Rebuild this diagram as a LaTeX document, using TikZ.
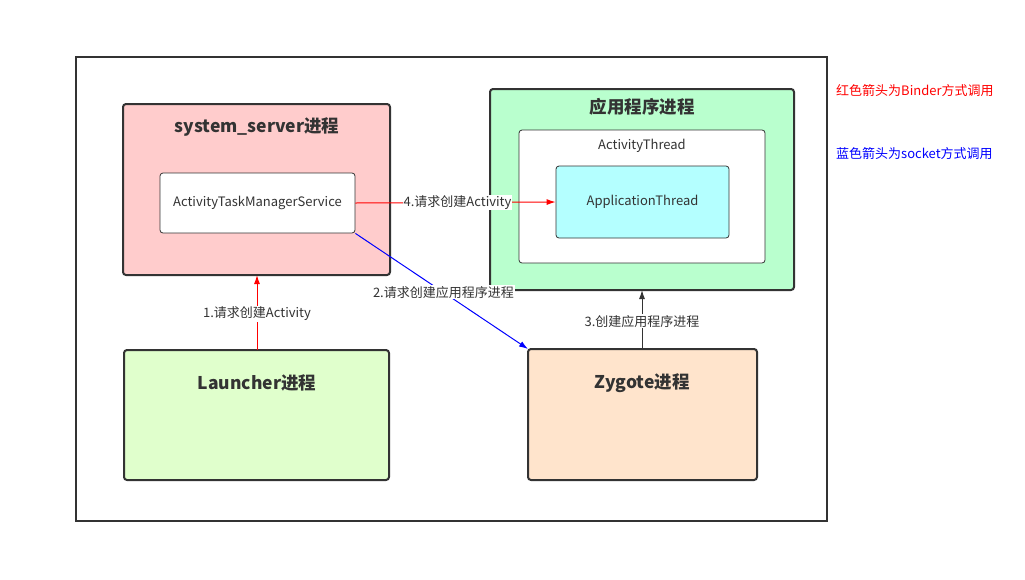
\documentclass[tikz,border=0pt]{standalone}
\usepackage{fontspec}
\setmainfont{Noto Sans CJK SC}
\usetikzlibrary{arrows.meta}
\definecolor{txt}{HTML}{333333}
\definecolor{ssfill}{HTML}{FFCCCC}
\definecolor{appfill}{HTML}{B9FFCE}
\definecolor{atfill}{HTML}{B4FFFF}
\definecolor{lfill}{HTML}{E0FFCC}
\definecolor{zfill}{HTML}{FFE4CC}
\tikzset{
  proc/.style={draw=txt, line width=2pt, rounded corners=3pt},
  inner/.style={draw=txt, line width=0.8pt, rounded corners=3pt, fill=white},
  ttl/.style={text=txt, font=\fontsize{17.5}{20}\selectfont\bfseries},
  lbl/.style={text=txt, font=\fontsize{13}{15}\selectfont},
  elbl/.style={text=txt, font=\fontsize{13}{15}\selectfont, fill=white, inner sep=1pt},
  arr/.style={line width=1pt, -{Latex[length=9pt,width=6pt]}},
}
\begin{document}
\begin{tikzpicture}[x=1pt,y=-1pt]
\useasboundingbox (0,0) rectangle (1025,579);
% outer frame
\draw[txt, line width=1.5pt] (76,57) rectangle (827,521);
% system_server
\draw[proc, fill=ssfill] (123,104) rectangle (390,275);
\coordinate (ssS) at (257,275);
\node[ttl] (sst) at (257,127) {system\_server进程};
\node[inner, minimum width=195pt, minimum height=60pt, lbl] (atms) at (257.5,203) {ActivityTaskManagerService};
% app process
\draw[proc, fill=appfill] (490,89) rectangle (794,290);
\coordinate (appS) at (642,290);
\node[ttl] (appt) at (642,107) {应用程序进程};
\draw[inner] (519,130) rectangle (765,263);
\node[lbl] (att) at (642,146) {ActivityThread};
\node[inner, fill=atfill, minimum width=173pt, minimum height=72pt, lbl] (apt) at (642.5,202) {ApplicationThread};
% launcher
\draw[proc, fill=lfill] (124,350) rectangle (389,480);
\coordinate (lN) at (257,350);
\node[ttl] (lt) at (257,383) {Launcher进程};
% zygote
\draw[proc, fill=zfill] (528,349) rectangle (757,480);
\coordinate (zN) at (642,349);
\coordinate (zNW) at (528,349);
\node[ttl] (zt) at (642,383) {Zygote进程};
% arrows
\draw[arr, red] (lN) -- node[elbl, pos=0.48] {1.请求创建Activity} (ssS);
\draw[arr, red] (atms.east) -- node[elbl, pos=0.51] {4.请求创建Activity} (apt.west);
\draw[arr, blue] (atms.south east) -- node[elbl, pos=0.51] {2.请求创建应用程序进程} (zNW);
\draw[arr, txt] (zN) -- node[elbl, pos=0.47] {3.创建应用程序进程} (appS);
% legend
\node[anchor=west, inner sep=0pt, text=red, font=\fontsize{13}{15}\selectfont] (lg1) at (836,91) {红色箭头为Binder方式调用};
\node[anchor=west, inner sep=0pt, text=blue, font=\fontsize{13}{15}\selectfont] (lg2) at (836,154) {蓝色箭头为socket方式调用};
\end{tikzpicture}
\end{document}
